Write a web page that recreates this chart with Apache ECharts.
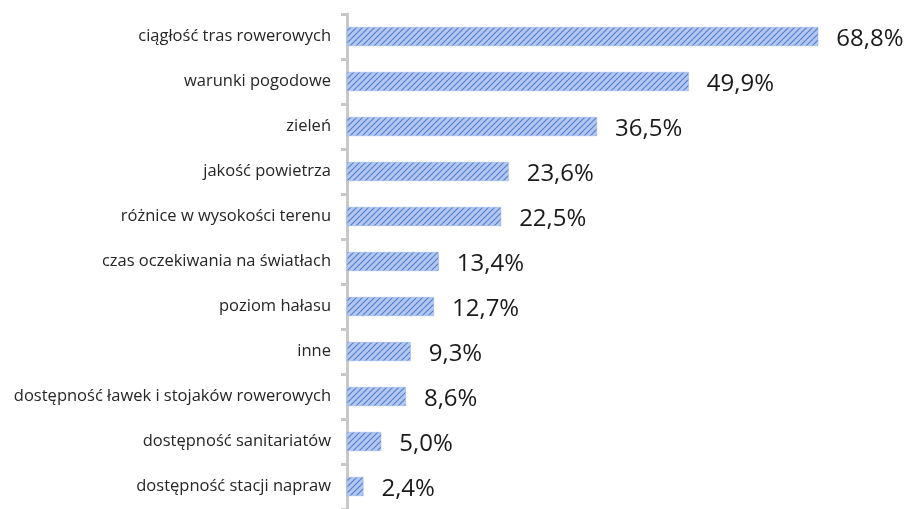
<!DOCTYPE html>
<html><head><meta charset="utf-8">
<script src="https://cdn.jsdelivr.net/npm/echarts@6/dist/echarts.min.js"></script>
<style>html,body{margin:0;padding:0;background:#fff}#c{width:911px;height:509px}</style>
</head><body><div id="c"></div>
<script>
const categories = [
  'ciągłość tras rowerowych',
  'warunki pogodowe',
  'zieleń',
  'jakość powietrza',
  'różnice w wysokości terenu',
  'czas oczekiwania na światłach',
  'poziom hałasu',
  'inne',
  'dostępność ławek i stojaków rowerowych',
  'dostępność sanitariatów',
  'dostępność stacji napraw'
];
const values = [68.8, 49.9, 36.5, 23.6, 22.5, 13.4, 12.7, 9.3, 8.6, 5.0, 2.4];

function makePattern() {
  const s = 6;
  const cv = document.createElement('canvas');
  cv.width = s; cv.height = s;
  const ctx = cv.getContext('2d');
  ctx.fillStyle = '#b3c7ef';
  ctx.fillRect(0, 0, s, s);
  ctx.strokeStyle = '#4f7cd3';
  ctx.lineWidth = 1.1;
  ctx.beginPath();
  ctx.moveTo(-1, s + 1); ctx.lineTo(s + 1, -1);
  ctx.moveTo(-1, 1); ctx.lineTo(1, -1);
  ctx.moveTo(s - 1, s + 1); ctx.lineTo(s + 1, s - 1);
  ctx.stroke();
  return cv;
}

const chart = echarts.init(document.getElementById('c'));
chart.setOption({
  animation: false,
  grid: { left: 347, right: 16, top: 14, bottom: -7, containLabel: false },
  xAxis: {
    type: 'value', min: 0, max: 80, show: false
  },
  yAxis: {
    type: 'category', data: categories, inverse: true, offset: 2,
    axisLine: { show: true, lineStyle: { color: '#c8c8c8', width: 3 } },
    axisTick: { show: true, length: 6, lineStyle: { color: '#c8c8c8', width: 3 } },
    axisLabel: { margin: 14, color: '#262626', fontSize: 16.5, fontFamily: 'Open Sans' }
  },
  series: [{
    type: 'bar', data: values, barWidth: 19,
    itemStyle: { color: { image: makePattern(), repeat: 'repeat' }, borderColor: '#9ab3e6', borderWidth: 0.5 },
    label: {
      show: true, position: 'right', distance: 18, color: '#1a1a1a', fontSize: 24, fontFamily: 'Open Sans',
      offset: [0, 3],
      formatter: p => p.value.toFixed(1).replace('.', ',') + '%'
    }
  }]
});
</script></body></html>
